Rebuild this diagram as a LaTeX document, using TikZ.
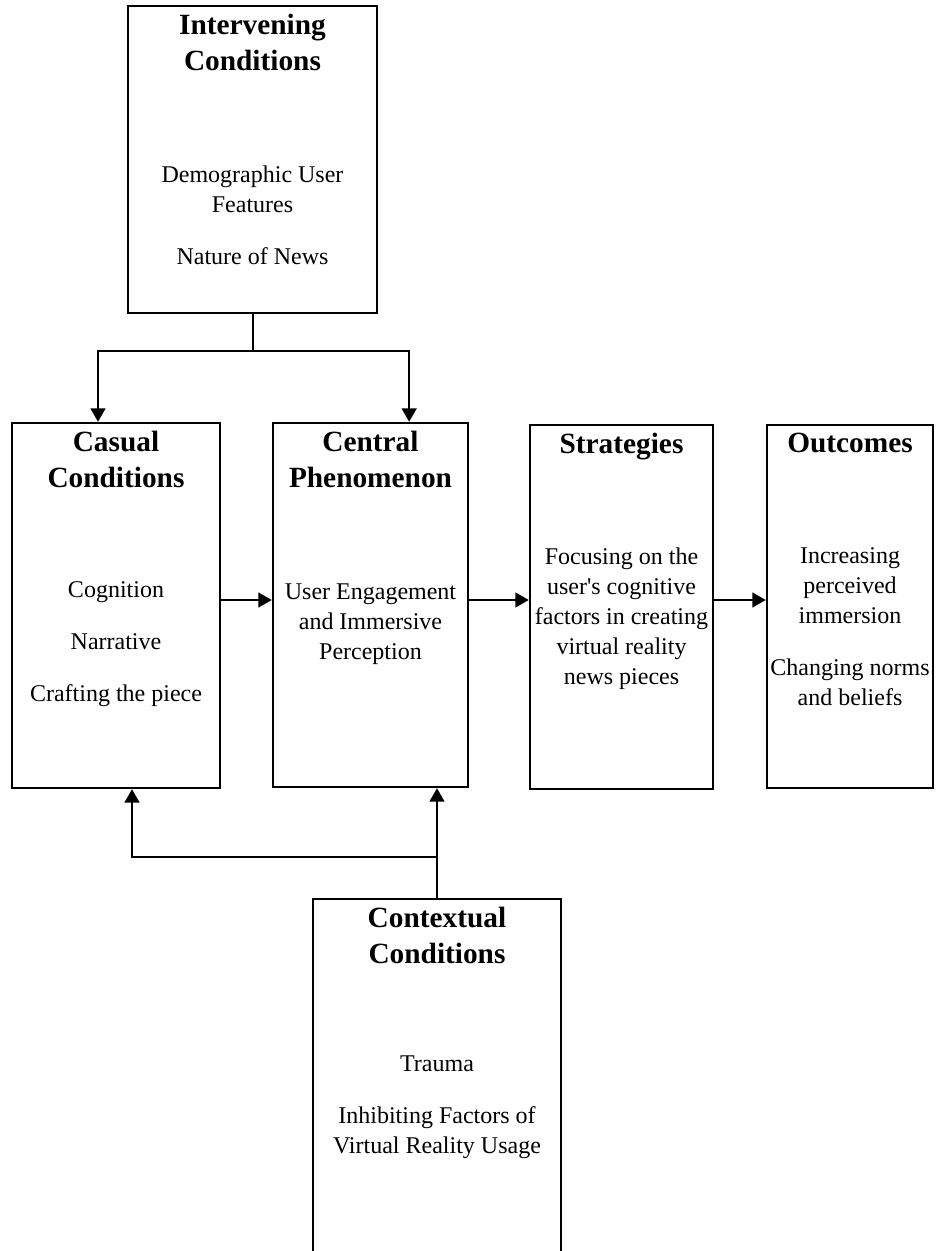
\documentclass[tikz,border=0pt]{standalone}
\usepackage{fontspec}
\setmainfont{Liberation Serif}
\usetikzlibrary{positioning,arrows.meta}
\begin{document}
\begin{tikzpicture}[x=0.75pt,y=-0.75pt,
    box/.style={draw,line width=1.8pt,inner sep=0pt},
    head/.style={font=\fontsize{22}{26.5}\selectfont\bfseries,align=center,inner sep=0pt},
    body/.style={font=\fontsize{18}{22.5}\selectfont,align=center,inner sep=0pt},
    conn/.style={line width=1.5pt},
    arr/.style={conn,-{Triangle[length=10pt,width=11pt]}}]
  \useasboundingbox (0,0) rectangle (935,1251);
  \clip (0,0) rectangle (935,1251);
  % boxes
  \node[box,minimum width=186.75pt,minimum height=230.25pt](inter) at (252.5,159.5){};
  \node[box,minimum width=156pt,minimum height=273.75pt](casual) at (116,605.5){};
  \node[box,minimum width=146.25pt,minimum height=273pt](central) at (370.5,605){};
  \node[box,minimum width=137.25pt,minimum height=273pt](strat) at (621.5,607){};
  \node[box,minimum width=124.5pt,minimum height=272.25pt](outc) at (850,606.5){};
  \node[box,minimum width=186pt,minimum height=274.5pt](context) at (437,1082){};
  % titles
  \node[head,below=7pt of inter.north](intertitle){Intervening\\Conditions};
  \node[head,below=7pt of casual.north](casualtitle){Casual\\Conditions};
  \node[head,below=7pt of central.north](centraltitle){Central\\Phenomenon};
  \node[head,below=7pt of strat.north](strattitle){Strategies};
  \node[head,below=7pt of outc.north](outctitle){Outcomes};
  \node[head,below=7pt of context.north](contexttitle){Contextual\\Conditions};
  % contents
  \node[body](interbody) at (252.5,215){Demographic User\\Features\\[16.5pt]Nature of News};
  \node[body](casualbody) at (116,644.5){Cognition\\[16.5pt]Narrative\\[16.5pt]Crafting the piece};
  \node[body](centralbody) at (370.5,624.5){User Engagement\\and Immersive\\Perception};
  \node[body](stratbody) at (621.5,619){Focusing on the\\user\textquotesingle s cognitive\\factors in creating\\virtual reality\\news pieces};
  \node[body](outcbody) at (850,626.5){Increasing\\perceived\\immersion\\[16.5pt]Changing norms\\and beliefs};
  \node[body](contextbody) at (437,1107.5){Trauma\\[16.5pt]Inhibiting Factors of\\Virtual Reality Usage};
  % connectors
  \coordinate (split) at ([yshift=-27.75pt]inter.south);
  \coordinate (row) at (0,600);
  \coordinate (low) at (0,857);
  \coordinate (join) at (context.north |- low);
  \draw[conn] (inter.south) -- (split);
  \draw[arr] (split) -| ([xshift=-13.5pt]casual.north);
  \draw[arr] (split) -| ([xshift=29pt]central.north);
  \draw[arr] (casual.east |- row) -- (central.west |- row);
  \draw[arr] (central.east |- row) -- (strat.west |- row);
  \draw[arr] (strat.east |- row) -- (outc.west |- row);
  \draw[conn] (context.north) -- (join);
  \draw[arr] (join) -| ([xshift=12pt]casual.south);
  \draw[arr] (join) -- (join |- central.south);
\end{tikzpicture}
\end{document}
